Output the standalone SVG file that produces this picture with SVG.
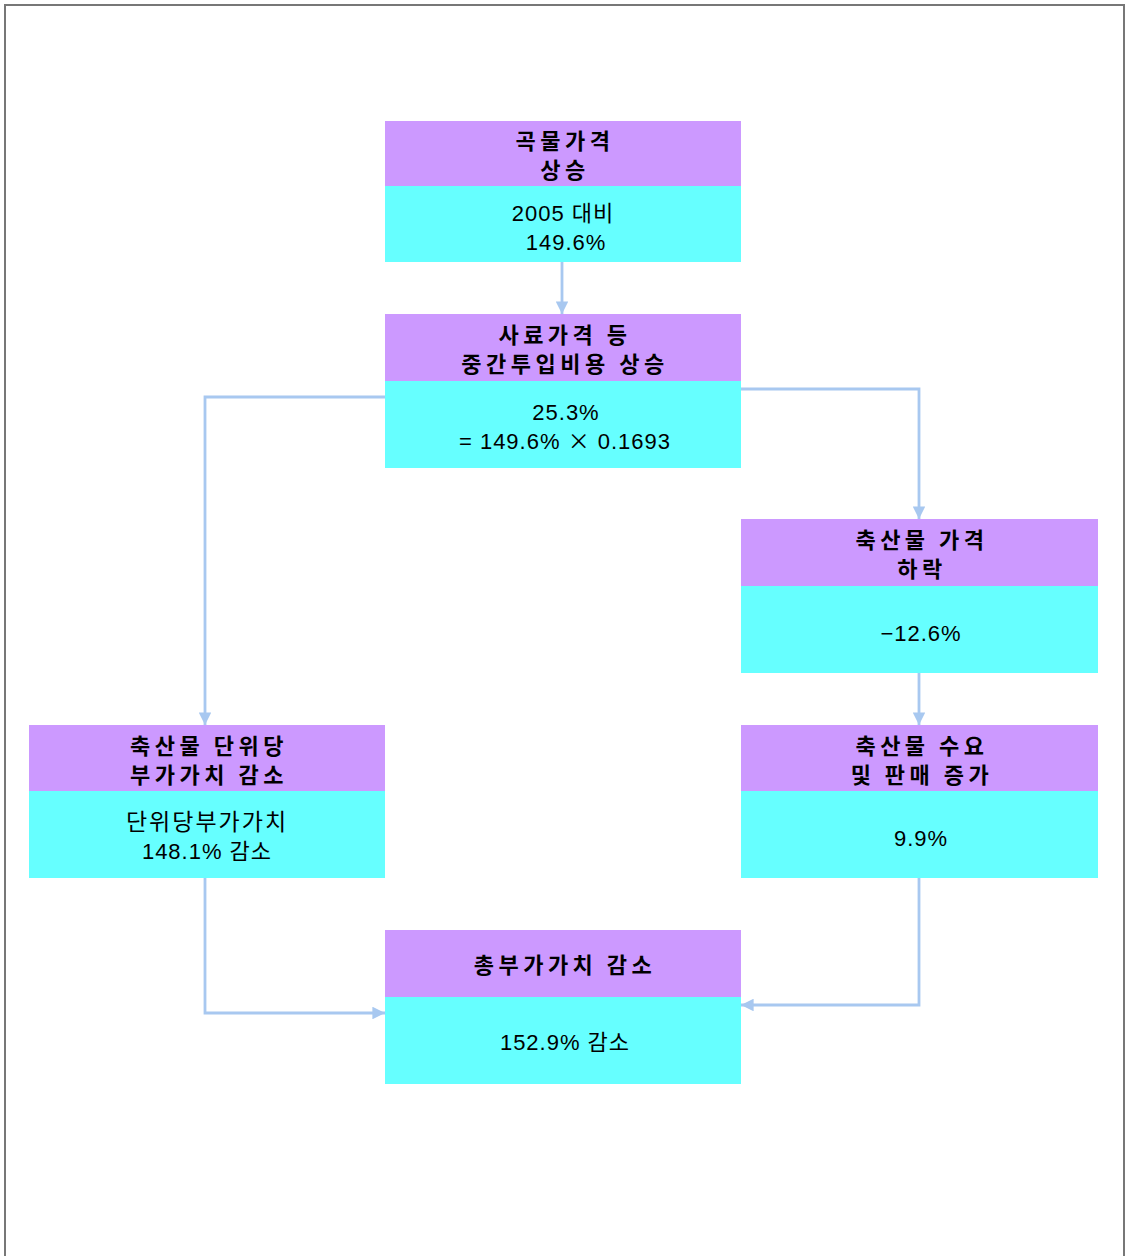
<svg xmlns="http://www.w3.org/2000/svg" width="1127" height="1256" viewBox="0 0 1127 1256">
<defs>
<style>
.hd{fill:#cc99ff}
.bd{fill:#66ffff}
.ht{font-family:"Noto Sans CJK KR","Noto Sans",sans-serif;font-size:22px;font-weight:bold;fill:#000;text-anchor:middle;letter-spacing:4.5px}
.bt{font-family:"Liberation Sans","Noto Sans CJK KR",sans-serif;font-size:22px;fill:#000;text-anchor:middle;letter-spacing:1px}
.ko{font-size:23px;letter-spacing:2px}
.x{font-family:"Noto Sans CJK KR",sans-serif}
.cn{fill:none;stroke:#a8c8f0;stroke-width:2.8;marker-end:url(#ah)}
</style>
<marker id="ah" viewBox="0 0 10 10" refX="10" refY="5" markerWidth="4.5" markerHeight="4.5" orient="auto" markerUnits="strokeWidth">
<path d="M0,0 L10,5 L0,10 z" fill="#a8c8f0"/>
</marker>
</defs>
<rect x="0" y="0" width="1127" height="1256" fill="#fff"/>
<path d="M5,1256 V5 H1124 V1256" fill="none" stroke="#777" stroke-width="2"/>
<g id="connectors">
<path class="cn" d="M562,262 V314"/>
<path class="cn" d="M741,389 H919 V519"/>
<path class="cn" d="M385,397 H205 V725"/>
<path class="cn" d="M919,673 V725"/>
<path class="cn" d="M205,878 V1013 H385"/>
<path class="cn" d="M919,878 V1005 H741"/>
</g>
<g id="n1">
<rect class="hd" x="385" y="121" width="356" height="65"/>
<rect class="bd" x="385" y="186" width="356" height="76"/>
<text class="ht" x="565" y="149">곡물가격</text>
<text class="ht" x="565" y="178">상승</text>
<text class="bt" x="563" y="221">2005 대비</text>
<text class="bt" x="566" y="250">149.6%</text>
</g>
<g id="n2">
<rect class="hd" x="385" y="314" width="356" height="67"/>
<rect class="bd" x="385" y="381" width="356" height="87"/>
<text class="ht" x="565" y="343">사료가격 등</text>
<text class="ht" x="565" y="372">중간투입비용 상승</text>
<text class="bt" x="566" y="420">25.3%</text>
<text class="bt" x="565" y="449">= 149.6% <tspan class="x">×</tspan> 0.1693</text>
</g>
<g id="n3">
<rect class="hd" x="741" y="519" width="357" height="67"/>
<rect class="bd" x="741" y="586" width="357" height="87"/>
<text class="ht" x="922" y="548">축산물 가격</text>
<text class="ht" x="922" y="577">하락</text>
<text class="bt" x="921" y="641">−12.6%</text>
</g>
<g id="n4">
<rect class="hd" x="29" y="725" width="356" height="66"/>
<rect class="bd" x="29" y="791" width="356" height="87"/>
<text class="ht" x="209" y="754">축산물 단위당</text>
<text class="ht" x="209" y="783">부가가치 감소</text>
<text class="bt ko" x="207" y="830">단위당부가가치</text>
<text class="bt" x="207" y="859">148.1% 감소</text>
</g>
<g id="n5">
<rect class="hd" x="741" y="725" width="357" height="66"/>
<rect class="bd" x="741" y="791" width="357" height="87"/>
<text class="ht" x="922" y="754">축산물 수요</text>
<text class="ht" x="922" y="783">및 판매 증가</text>
<text class="bt" x="921" y="846">9.9%</text>
</g>
<g id="n6">
<rect class="hd" x="385" y="930" width="356" height="67"/>
<rect class="bd" x="385" y="997" width="356" height="87"/>
<text class="ht" x="565" y="973">총부가가치 감소</text>
<text class="bt" x="565" y="1050">152.9% 감소</text>
</g>
</svg>
